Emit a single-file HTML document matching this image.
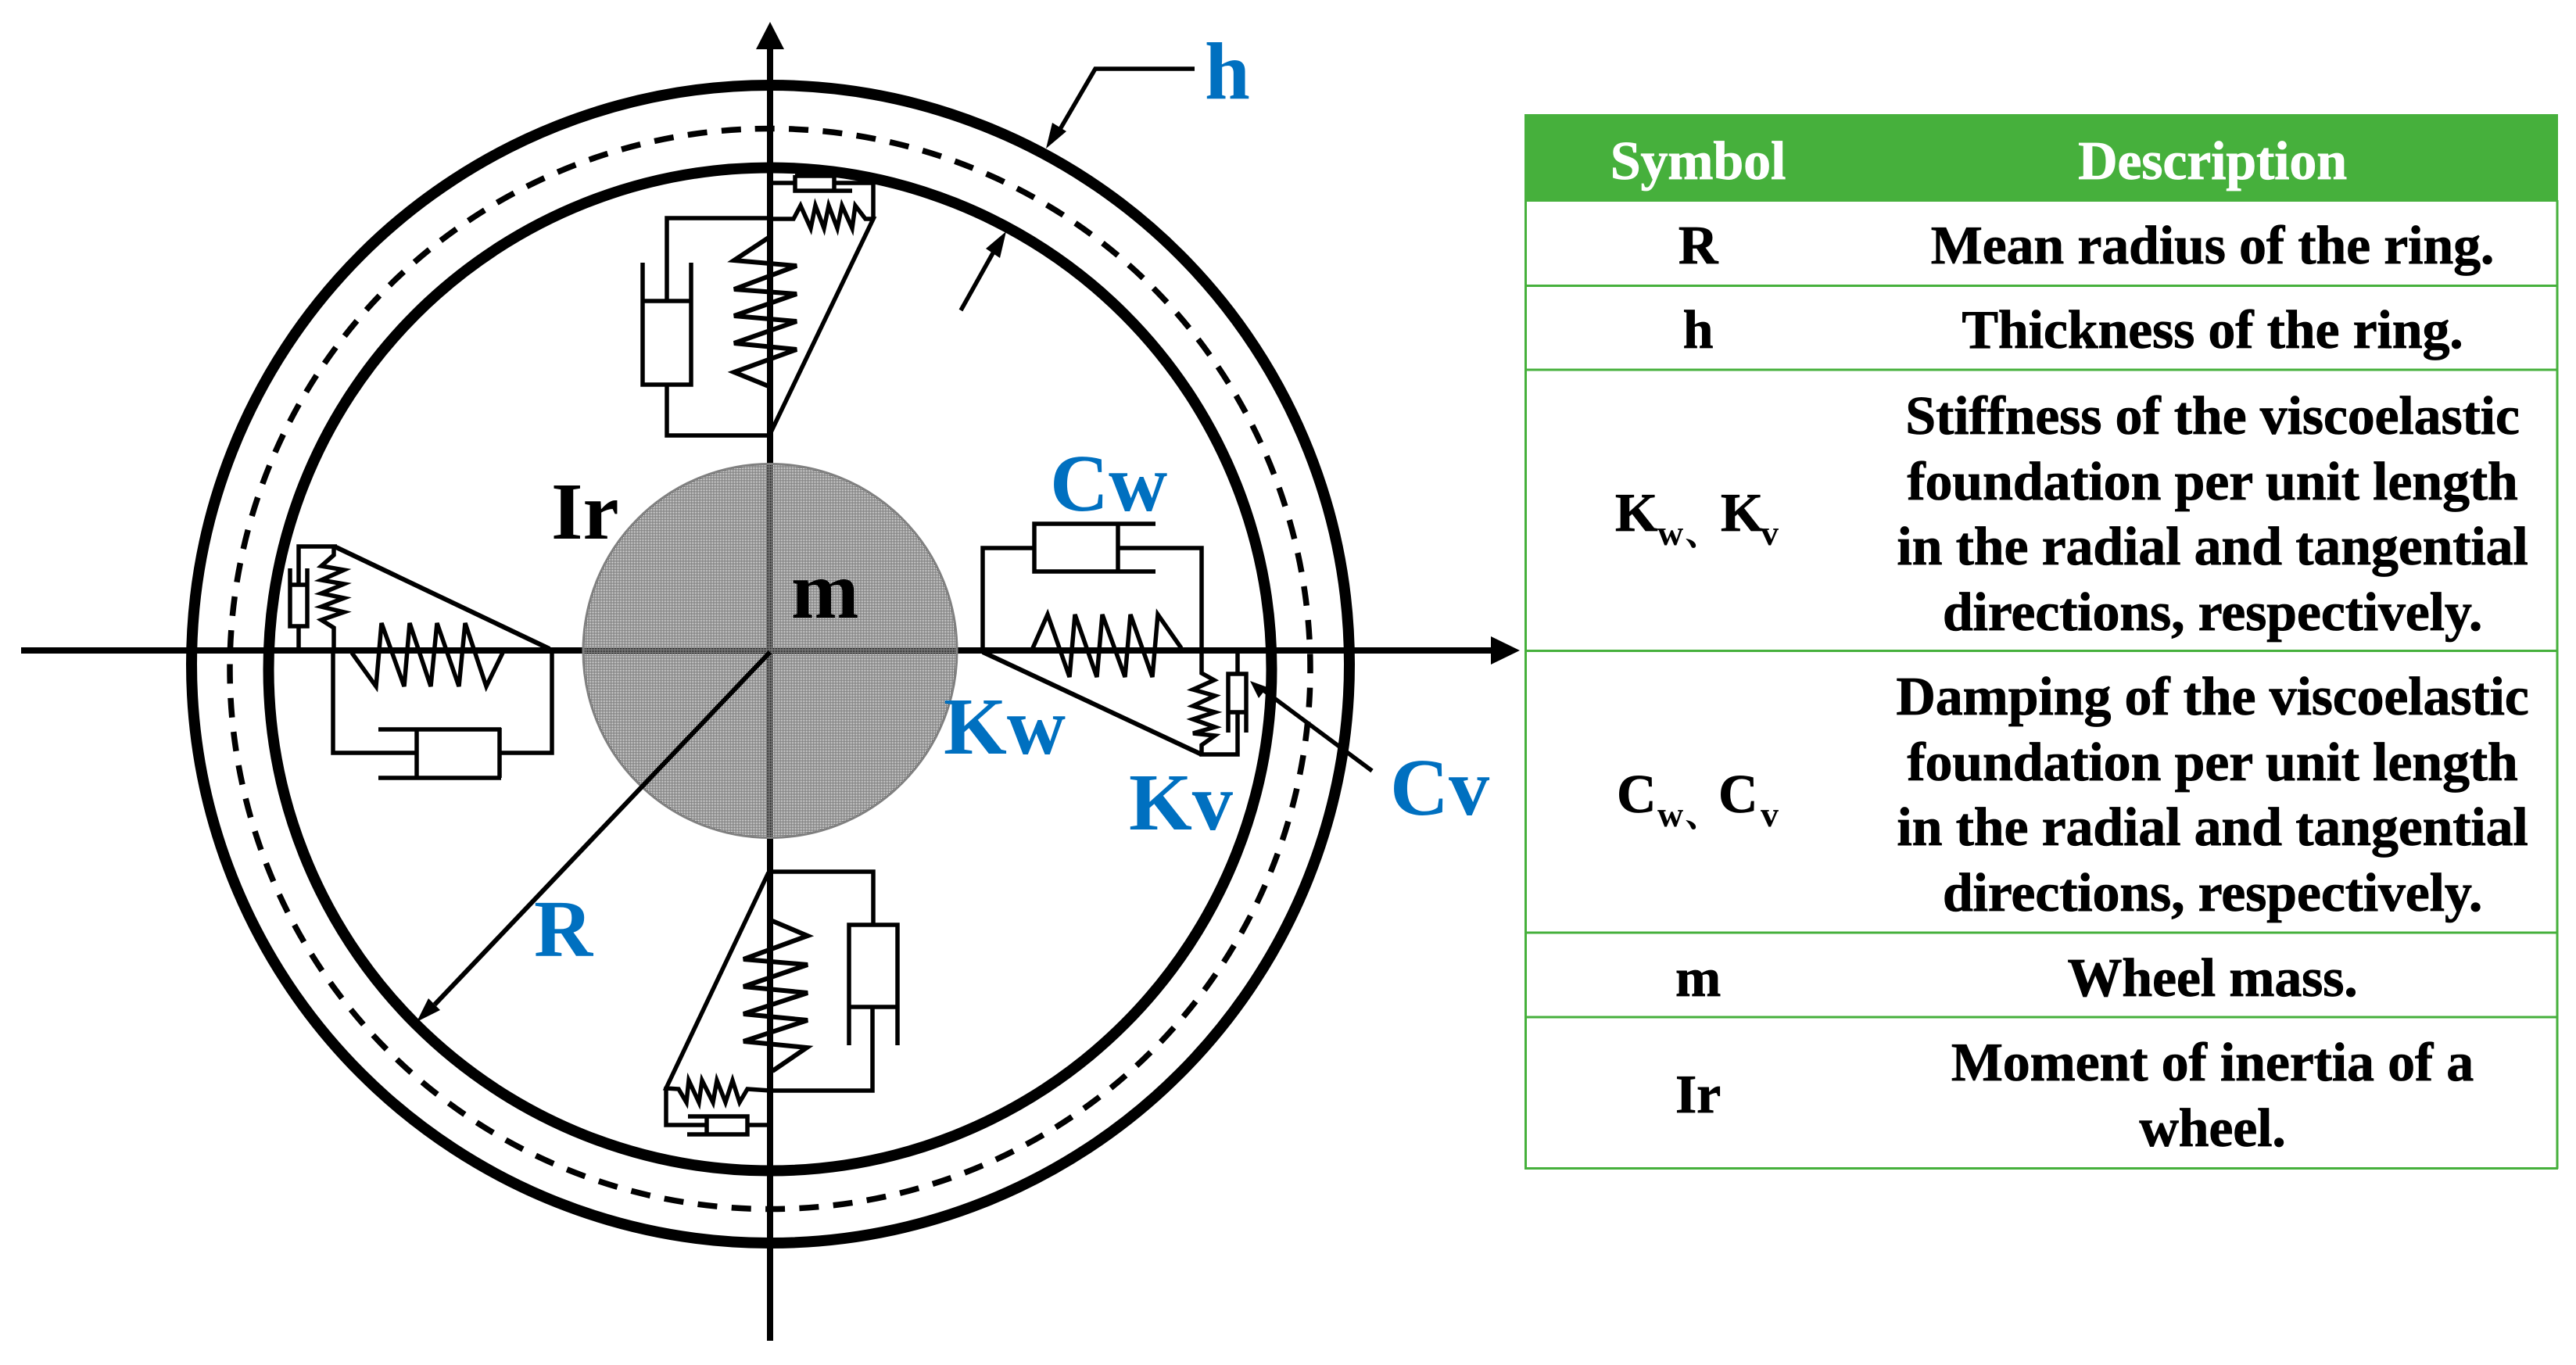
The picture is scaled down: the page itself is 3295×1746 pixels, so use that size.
<!DOCTYPE html>
<html><head><meta charset="utf-8"><style>
html,body{margin:0;padding:0;background:#fff}
svg{display:block}
text{font-family:"Liberation Serif","Noto Serif CJK SC",serif;font-weight:bold}
.t{font-size:70px;text-anchor:middle;fill:#000;stroke:#000;stroke-width:.8px;letter-spacing:-.2px}
.h{font-size:70px;text-anchor:middle;fill:#fff;stroke:#fff;stroke-width:.8px;letter-spacing:-.2px}
.s{font-size:46px;fill:#000}
.k{font-size:70px;fill:#000;stroke:#000;stroke-width:.8px}
.b{font-size:104px;fill:#0070C0}
.n{font-size:104px;fill:#000}
</style></head><body>
<svg width="3295" height="1746" viewBox="0 0 3295 1746" xmlns="http://www.w3.org/2000/svg">
<defs>
<pattern id="dots" width="2" height="2" patternUnits="userSpaceOnUse">
<rect x="0" y="0" width="2" height="1" fill="#808080" shape-rendering="crispEdges"/>
<rect x="0" y="1" width="1" height="1" fill="#808080" shape-rendering="crispEdges"/>
</pattern>
</defs>
<rect width="3295" height="1746" fill="#fff"/>

<!-- axes -->
<g stroke="#000" stroke-width="8" fill="none">
<line x1="27" y1="832" x2="1910" y2="832"/>
<line x1="985" y1="60" x2="985" y2="1715"/>
</g>
<polygon points="1944,832 1907,814 1907,850" fill="#000"/>
<polygon points="985,28 967,63 1003,63" fill="#000"/>

<!-- rings -->
<g fill="none" stroke="#000">
<circle cx="985.5" cy="849.5" r="740.5" stroke-width="14"/>
<circle cx="985" cy="856" r="641.5" stroke-width="14"/>
<circle cx="985" cy="855.5" r="691" stroke-width="7.5" stroke-dasharray="25 18.417" transform="rotate(-91.6 985 855.5)"/>
</g>

<g fill="none" stroke="#000" stroke-width="5.5" stroke-linejoin="miter">
<!-- TOP mechanism -->
<polyline points="985,234 1017,234"/>
<polyline points="1017,224 1017,244 1090,244"/>
<polyline points="1067,224 1067,244"/>
<line x1="1017" y1="225" x2="1067" y2="225"/>
<polyline points="1067,234 1117,234 1117,280"/>
<polyline points="985,280 1015,280 1024,263 1037,292 1043,263 1054,292 1060,263 1071,292 1077,263 1090,292 1094,263 1107,280 1117,280 985,555"/>
<polyline points="985,279 853,279 853,385"/>
<polyline points="822,336 822,492 884,492 884,336"/>
<line x1="822" y1="385" x2="884" y2="385"/>
<polyline points="853,492 853,557 985,557"/>
<polyline points="983,304 939,333 1019,340 939,370 1019,376 939,404 1019,411 939,439 1019,447 939,476 983,494" stroke-width="6"/>

<!-- RIGHT mechanism -->
<polyline points="1257,832 1257,701 1323,701"/>
<polyline points="1478,670 1323,670 1323,731 1478,731"/>
<line x1="1430" y1="670" x2="1430" y2="731"/>
<polyline points="1430,701 1537,701 1537,861 1553,870 1526,882 1554,890 1526,903 1554,911 1526,920 1554,930 1526,938 1554,941 1537,953 1537,965 1583,965 1583,911"/>
<line x1="1583" y1="832" x2="1583" y2="862"/>
<polyline points="1571,937 1571,862 1594,862 1594,937"/>
<line x1="1571" y1="911" x2="1594" y2="911"/>
<line x1="1257" y1="834" x2="1537" y2="965" stroke-width="6"/>
<polyline points="1321,829 1340,786 1368,866 1375,786 1403,866 1410,786 1439,866 1446,786 1474,866 1481,786 1511,829"/>
<line x1="1755" y1="986" x2="1615" y2="882"/>
<polygon points="1599,871 1621,879 1610,893" fill="#000" stroke="none"/>

<!-- LEFT mechanism -->
<line x1="430" y1="700" x2="703" y2="830" stroke-width="6"/>
<polyline points="431,699 382,699 382,748"/>
<polyline points="371,727 371,801 393,801 393,727"/>
<line x1="371" y1="748" x2="393" y2="748"/>
<line x1="382" y1="801" x2="382" y2="830"/>
<polyline points="427,699 427,710 411,724 440,729 411,742 440,747 411,759 440,765 411,776 440,783 411,793 427,803 427,830"/>
<polyline points="426,832 426,963 531,963"/>
<polyline points="484,933 641,933"/>
<polyline points="484,995 641,995"/>
<line x1="533" y1="933" x2="533" y2="995"/>
<polyline points="639,931 639,995"/>
<polyline points="639,963 706,963 706,832"/>
<polyline points="450,835 481,878 488,797 517,878 524,797 551,878 559,797 587,878 595,797 622,878 643,835"/>

<!-- BOTTOM mechanism -->
<polyline points="985,1115 1117,1115 1117,1182"/>
<polyline points="1086,1337 1086,1183 1148,1183 1148,1337"/>
<line x1="1086" y1="1288" x2="1148" y2="1288"/>
<polyline points="1116,1288 1116,1395 985,1395 956,1393 946,1410 937,1382 928,1410 917,1382 912,1410 898,1382 894,1410 881,1382 878,1410 868,1393 852,1392 983,1116"/>
<polyline points="852,1390 852,1439 903,1439"/>
<polyline points="880,1428 956,1428 956,1451 879,1451"/>
<line x1="904" y1="1428" x2="904" y2="1451"/>
<line x1="956" y1="1439" x2="985" y2="1439"/>
<polyline points="988,1178 1033,1197 951,1227 1033,1234 951,1262 1033,1270 951,1297 1033,1305 951,1332 1032,1340 988,1370" stroke-width="6"/>

<!-- h arrows -->
<polyline points="1528,88 1401,88 1352,172"/>
<line x1="1229" y1="397" x2="1271" y2="322"/>
</g>
<polygon points="1338,190 1346,157 1364,168" fill="#000"/>
<polygon points="1287,296 1261,318 1279,330" fill="#000"/>

<!-- Central wheel -->
<circle cx="985" cy="832.5" r="239" fill="url(#dots)" stroke="#808080" stroke-width="3"/>

<!-- R arrow -->
<line x1="985" y1="834" x2="556" y2="1285" stroke="#000" stroke-width="6"/>
<polygon points="533,1307 548,1277 563,1292" fill="#000"/>

<!-- diagram labels -->
<text class="b" x="1541" y="126">h</text>
<text class="b" x="1343" y="653">Cw</text>
<text class="b" x="1207" y="964">Kw</text>
<text class="b" x="1444" y="1061">Kv</text>
<text class="b" x="1778" y="1042">Cv</text>
<text class="b" x="683" y="1223">R</text>
<text class="n" x="705" y="689">Ir</text>
<text class="n" x="1012" y="790">m</text>

<!-- table -->
<rect x="1950" y="146" width="1322" height="112" fill="#46B03C"/>
<g stroke="#46B03C" stroke-width="3" fill="none">
<line x1="1951.5" y1="256" x2="1951.5" y2="1495"/>
<line x1="3271" y1="256" x2="3271" y2="1495"/>
<line x1="1950" y1="365.5" x2="3272" y2="365.5"/>
<line x1="1950" y1="473" x2="3272" y2="473"/>
<line x1="1950" y1="832.5" x2="3272" y2="832.5"/>
<line x1="1950" y1="1193" x2="3272" y2="1193"/>
<line x1="1950" y1="1301" x2="3272" y2="1301"/>
<line x1="1950" y1="1494.5" x2="3272" y2="1494.5"/>
</g>
<text class="h" x="2172" y="229">Symbol</text>
<text class="h" x="2830" y="229">Description</text>
<text class="t" x="2172" y="337">R</text>
<text class="t" x="2830" y="337">Mean radius of the ring.</text>
<text class="t" x="2172" y="445">h</text>
<text class="t" x="2830" y="445">Thickness of the ring.</text>
<text class="t" x="2830" y="555">Stiffness of the viscoelastic</text>
<text class="t" x="2830" y="639">foundation per unit length</text>
<text class="t" x="2830" y="722">in the radial and tangential</text>
<text class="t" x="2830" y="806">directions, respectively.</text>
<text class="k" x="2066" y="679">K</text><text class="s" x="2120" y="697">w</text><text class="s" x="2155" y="697">、</text><text class="k" x="2201" y="679">K</text><text class="s" x="2252" y="697">v</text>
<text class="t" x="2830" y="914">Damping of the viscoelastic</text>
<text class="t" x="2830" y="998">foundation per unit length</text>
<text class="t" x="2830" y="1081">in the radial and tangential</text>
<text class="t" x="2830" y="1165">directions, respectively.</text>
<text class="k" x="2068" y="1039">C</text><text class="s" x="2120" y="1057">w</text><text class="s" x="2155" y="1057">、</text><text class="k" x="2198" y="1039">C</text><text class="s" x="2252" y="1057">v</text>
<text class="t" x="2172" y="1274">m</text>
<text class="t" x="2830" y="1274">Wheel mass.</text>
<text class="t" x="2172" y="1423">Ir</text>
<text class="t" x="2830" y="1382">Moment of inertia of a</text>
<text class="t" x="2830" y="1466">wheel.</text>
</svg>
</body></html>
